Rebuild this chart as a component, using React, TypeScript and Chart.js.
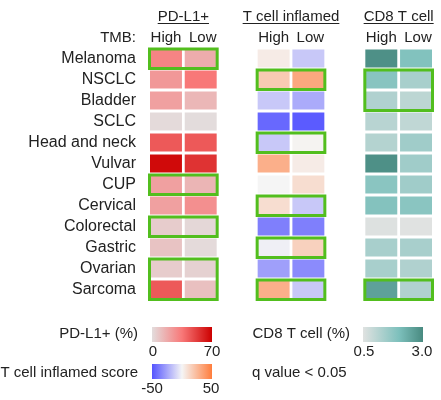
import React, { useEffect, useRef } from "react";
import { Chart, registerables } from "chart.js";
Chart.register(...registerables);

const cancers = ["Melanoma", "NSCLC", "Bladder", "SCLC", "Head and neck", "Vulvar", "CUP", "Cervical", "Colorectal", "Gastric", "Ovarian", "Sarcoma"];
const tmbLabels = ["High", "Low"];
const groupTitles = ["PD-L1+", "T cell inflamed", "CD8 T cell"];

const pdl1High = [31, 24, 21, 1, 44, 67, 21, 21, 6, 9, 6, 44];
const pdl1Low = [17, 35, 13, 0.5, 44, 55, 14, 27, 2, 1, 4, 10];
const tcellHigh = [4, 18, -14, -44, -14, 29, 0, 10, -37, -2, -27, 29];
const tcellLow = [-14, 32, -23, -48, 1, 4, 10, -14, -37, 15, -33, -14];
const cd8High = [2.89, 1.83, 1.23, 1.1, 1.17, 2.88, 1.8, 1.9, 0.55, 1.35, 1.35, 2.58];
const cd8Low = [1.92, 1.35, 1.05, 0.98, 1.47, 1.47, 1.47, 1.8, 0.5, 1.35, 1.23, 1.23];

const pdl1Sig = ["Melanoma", "CUP", "Colorectal", "Ovarian", "Sarcoma"];
const tcellSig = ["NSCLC", "Head and neck", "Cervical", "Gastric", "Sarcoma"];
const cd8Sig = ["NSCLC", "Bladder", "Sarcoma"];

const pdl1Range = [0, 70];
const tcellRange = [-50, 50];
const cd8Range = [0.5, 3.0];
const pdl1TickLabels = ["0", "70"];
const tcellTickLabels = ["-50", "50"];
const cd8TickLabels = ["0.5", "3.0"];

const legendTitles = ["PD-L1+ (%)", "T cell inflamed score", "CD8 T cell (%)"];
const sigLabel = "q value < 0.05";

type Stop = [number, [number, number, number]];
const pdl1Stops: Stop[] = [[0, [227, 221, 221]], [0.5, [248, 120, 120]], [1, [204, 0, 0]]];
const tcellStops: Stop[] = [[0, [85, 85, 255]], [0.5, [245, 245, 245]], [1, [255, 125, 60]]];
const cd8Stops: Stop[] = [[0, [224, 226, 225]], [0.6, [125, 192, 188]], [1, [72, 138, 128]]];

function colorAt(stops: Stop[], t: number) {
  t = Math.max(0, Math.min(1, t));
  for (let i = 1; i < stops.length; i++) {
    const [t1, c1] = stops[i];
    const [t0, c0] = stops[i - 1];
    if (t <= t1) {
      const f = (t - t0) / (t1 - t0);
      const c = c0.map((v, k) => Math.round(v + (c1[k] - v) * f));
      return `rgb(${c[0]},${c[1]},${c[2]})`;
    }
  }
  const c = stops[stops.length - 1][1];
  return `rgb(${c[0]},${c[1]},${c[2]})`;
}
const scaleColor = (stops: Stop[], range: number[]) => (v: number) =>
  colorAt(stops, (v - range[0]) / (range[1] - range[0]));

const groups = [
  { title: groupTitles[0], values: [pdl1High, pdl1Low], color: scaleColor(pdl1Stops, pdl1Range), sig: pdl1Sig },
  { title: groupTitles[1], values: [tcellHigh, tcellLow], color: scaleColor(tcellStops, tcellRange), sig: tcellSig },
  { title: groupTitles[2], values: [cd8High, cd8Low], color: scaleColor(cd8Stops, cd8Range), sig: cd8Sig },
];

const GROUP_STEP = 3.1;
const CELL_W = 0.92;
const BAR_PCT = 0.857;
const FONT = "'Liberation Sans', Arial, sans-serif";
const TEXT = "#222";
const GREEN = "rgb(82,190,30)";

export default function App() {
  const ref = useRef<HTMLCanvasElement>(null);
  useEffect(() => {
    const canvas = ref.current!;
    const datasets: any[] = [];
    groups.forEach((g, gi) => {
      g.values.forEach((vals, si) => {
        const x0 = gi * GROUP_STEP + si;
        datasets.push({
          label: `${g.title} ${tmbLabels[si]}`,
          data: cancers.map(() => [x0, x0 + CELL_W]),
          backgroundColor: vals.map((v) => g.color(v)),
          borderWidth: 0,
          barPercentage: BAR_PCT,
          categoryPercentage: 1,
          grouped: false,
        });
      });
    });

    const overlay = {
      id: "overlay",
      afterDatasetsDraw(chart: any) {
        const ctx = chart.ctx;
        const xs = chart.scales.x;
        const ys = chart.scales.y;
        const band = (ys.bottom - ys.top) / cancers.length;
        const ch = band * BAR_PCT;
        ctx.save();
        ctx.strokeStyle = GREEN;
        ctx.lineWidth = 3;
        groups.forEach((g, gi) => {
          const left = xs.getPixelForValue(gi * GROUP_STEP);
          const right = xs.getPixelForValue(gi * GROUP_STEP + 1 + CELL_W);
          let i = 0;
          while (i < cancers.length) {
            if (g.sig.includes(cancers[i])) {
              let j = i;
              while (j + 1 < cancers.length && g.sig.includes(cancers[j + 1])) j++;
              const top = ys.getPixelForValue(i) - ch / 2;
              const bottom = ys.getPixelForValue(j) + ch / 2;
              ctx.strokeRect(left - 0.5, top - 0.5, right - left + 1, bottom - top + 1.5);
              i = j + 1;
            } else i++;
          }
        });
        ctx.restore();
      },
      afterDraw(chart: any) {
        const ctx = chart.ctx;
        const xs = chart.scales.x;
        ctx.save();
        ctx.fillStyle = TEXT;
        ctx.strokeStyle = TEXT;
        ctx.font = `15px ${FONT}`;
        ctx.textBaseline = "alphabetic";
        // headers
        groups.forEach((g, gi) => {
          const cx = (xs.getPixelForValue(gi * GROUP_STEP) + xs.getPixelForValue(gi * GROUP_STEP + 1 + CELL_W)) / 2;
          ctx.textAlign = "center";
          ctx.fillText(g.title, cx, 21);
          const w = ctx.measureText(g.title).width;
          ctx.lineWidth = 1;
          ctx.beginPath();
          ctx.moveTo(cx - w / 2, 23.5);
          ctx.lineTo(cx + w / 2, 23.5);
          ctx.stroke();
          tmbLabels.forEach((t, si) => {
            const c = xs.getPixelForValue(gi * GROUP_STEP + si + CELL_W / 2) + (si === 1 ? 2 : 0);
            ctx.fillText(t, c, 42);
          });
        });
        ctx.textAlign = "right";
        ctx.fillText("TMB:", 136, 42);

        // legends
        const drawBar = (stops: Stop[], x: number, y: number, w: number, h: number) => {
          const grad = ctx.createLinearGradient(x, 0, x + w, 0);
          stops.forEach(([t, c]) => grad.addColorStop(t, `rgb(${c[0]},${c[1]},${c[2]})`));
          ctx.fillStyle = grad;
          ctx.fillRect(x, y, w, h);
          ctx.fillStyle = TEXT;
        };
        ctx.textAlign = "right";
        ctx.fillText(legendTitles[0], 138, 338);
        ctx.fillText(legendTitles[1], 138, 377);
        ctx.fillText(legendTitles[2], 350, 338);
        ctx.textAlign = "left";
        ctx.fillText(sigLabel, 252, 377);

        drawBar(pdl1Stops, 152, 327, 60, 15);
        drawBar(tcellStops, 152, 364, 60, 15);
        drawBar(cd8Stops, 363, 327, 60, 15);
        ctx.textAlign = "center";
        ctx.fillText(pdl1TickLabels[0], 153, 356);
        ctx.fillText(pdl1TickLabels[1], 212, 356);
        ctx.fillText(tcellTickLabels[0], 152, 393);
        ctx.fillText(tcellTickLabels[1], 211, 393);
        ctx.fillText(cd8TickLabels[0], 364, 356);
        ctx.fillText(cd8TickLabels[1], 422, 356);
        ctx.restore();
      },
    };

    const chart = new Chart(canvas, {
      type: "bar",
      data: { labels: cancers, datasets },
      options: {
        indexAxis: "y",
        animation: false,
        responsive: false,
        devicePixelRatio: 1,
        layout: { padding: { top: 48, bottom: 100, left: 0, right: 9 } },
        plugins: { legend: { display: false }, tooltip: { enabled: false } },
        scales: {
          x: { type: "linear", min: 0, max: 2 * GROUP_STEP + 1 + CELL_W, display: false },
          y: {
            type: "category",
            grid: { display: false, drawTicks: false },
            border: { display: false },
            ticks: { autoSkip: false, padding: 14, color: TEXT, font: { size: 16, family: FONT } },
            afterFit: (axis: any) => { axis.width = 150; },
          },
        },
      } as any,
      plugins: [overlay],
    });
    return () => chart.destroy();
  }, []);
  return (
    <div style={{ position: "fixed", left: 0, top: 0, width: 441, height: 400, background: "#fff" }}>
      <canvas ref={ref} width={441} height={400} style={{ display: "block" }} />
    </div>
  );
}
